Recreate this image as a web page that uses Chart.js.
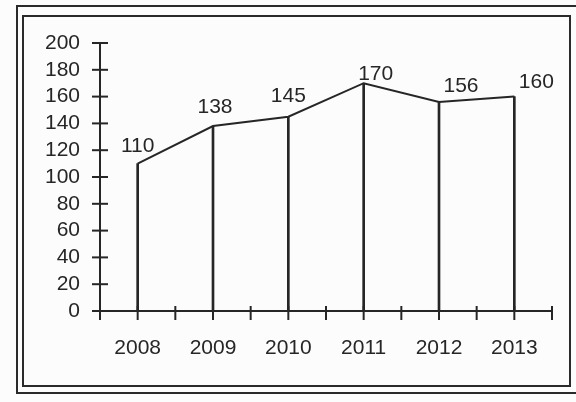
<!DOCTYPE html>
<html>
<head>
<meta charset="utf-8">
<script src="https://cdn.jsdelivr.net/npm/chart.js@4.4.1/dist/chart.umd.min.js"></script>
<style>
    body { margin: 0; background: #fcfcfc; }
    #wrap { position: relative; width: 576px; height: 402px; overflow: hidden; }
    .frame { position: absolute; border: 2px solid #2a2a2a; pointer-events: none; }
</style>
</head>
<body>
<div id="wrap">
    <canvas id="myChart" width="576" height="402"></canvas>
    <div class="frame" style="left:16px; top:5px; width:580px; height:385px;"></div>
    <div class="frame" style="left:22px; top:15px; width:545px; height:368px;"></div>
</div>
<script>
// Chart data
const years = ['2008', '2009', '2010', '2011', '2012', '2013'];
const values = [110, 138, 145, 170, 156, 160];
const yTicks = [0, 20, 40, 60, 80, 100, 120, 140, 160, 180, 200];

const ink = '#262626';
const font = { family: "'Liberation Sans', Arial, sans-serif", size: 21 };

// Value labels over each point (small nudges, like the original)
const labelDx = [0, 2, 0, 12, 22, 22];
const labelDy = [-17, -19, -20, -9, -16, -14];

// Draws the tick marks crossing both axes and the value labels
const axisMarks = {
    id: 'axisMarks',
    afterDatasetsDraw(chart) {
        const ctx = chart.ctx;
        const x = chart.scales.x;
        const y = chart.scales.y;
        ctx.save();
        ctx.strokeStyle = ink;
        ctx.lineWidth = 2;

        // y ticks
        yTicks.forEach(v => {
            const py = y.getPixelForValue(v);
            ctx.beginPath();
            ctx.moveTo(x.left - 8, py);
            ctx.lineTo(x.left + 8, py);
            ctx.stroke();
        });

        // x ticks at category centres and boundaries
        const step = (x.right - x.left) / years.length;
        for (let i = 0; i <= years.length * 2; i++) {
            const px = x.left + i * step / 2;
            ctx.beginPath();
            ctx.moveTo(px, y.bottom - 5);
            ctx.lineTo(px, y.bottom + 9);
            ctx.stroke();
        }

        // value labels
        const meta = chart.getDatasetMeta(1);
        ctx.fillStyle = ink;
        ctx.font = `${font.size}px ${font.family}`;
        ctx.textAlign = 'center';
        ctx.textBaseline = 'middle';
        meta.data.forEach((pt, i) => {
            ctx.fillText(values[i], pt.x + labelDx[i], pt.y + labelDy[i]);
        });
        ctx.restore();
    }
};

const ctx = document.getElementById('myChart').getContext('2d');
const myChart = new Chart(ctx, {
    data: {
        labels: years,
        datasets: [
            {
                // thin bars act as the drop lines
                type: 'bar',
                data: values,
                backgroundColor: ink,
                barThickness: 2,
                order: 2
            },
            {
                type: 'line',
                data: values,
                borderColor: ink,
                borderWidth: 2,
                pointRadius: 0,
                tension: 0,
                order: 1
            }
        ]
    },
    options: {
        responsive: false,
        animation: false,
        layout: { padding: { top: 43, right: 24, left: 0, bottom: 0 } },
        plugins: {
            legend: { display: false },
            tooltip: { enabled: false }
        },
        scales: {
            x: {
                offset: true,
                grid: { display: false, drawTicks: false },
                border: { display: true, color: ink, width: 2 },
                ticks: { color: ink, font: font, padding: 25, maxRotation: 0, autoSkip: false },
                afterFit: s => { s.height = 91; }
            },
            y: {
                min: 0,
                max: 200,
                afterBuildTicks: s => { s.ticks = yTicks.map(v => ({ value: v })); },
                grid: { display: false, drawTicks: false },
                border: { display: true, color: ink, width: 2 },
                ticks: { color: ink, font: font, padding: 20, autoSkip: false },
                afterFit: s => { s.width = 100; }
            }
        }
    },
    plugins: [axisMarks]
});
</script>
</body>
</html>
